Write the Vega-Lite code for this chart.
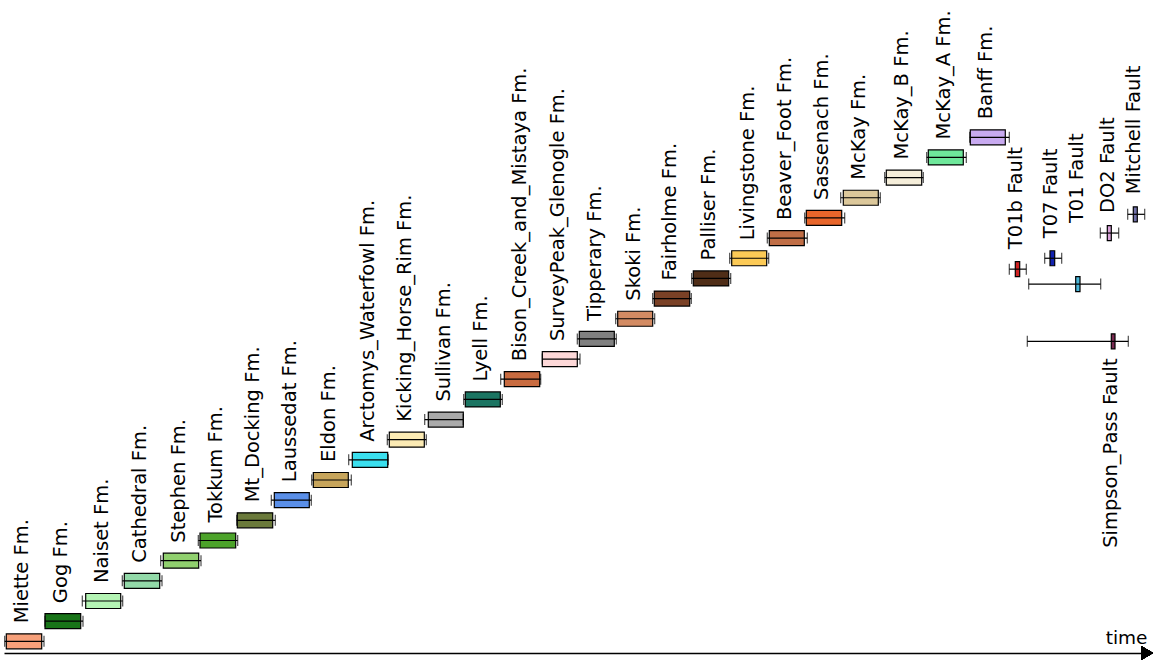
{
  "$schema": "https://vega.github.io/schema/vega-lite/v6.json",
  "width": 1145,
  "height": 653,
  "padding": {"left": 4, "top": 0, "right": 0, "bottom": 0},
  "autosize": {"type": "pad"},
  "background": "white",
  "config": {
    "view": {"stroke": null},
    "axisX": {"domain": true, "domainColor": "black", "domainWidth": 1.5, "ticks": false, "labels": false, "grid": false,
      "titleAnchor": "end", "titleAlign": "right", "titleBaseline": "alphabetic", "titleX": 1143, "titleY": -10,
      "titleFontSize": 18.5, "titleFontWeight": "normal", "titleFont": "DejaVu Sans", "titleColor": "black", "titlePadding": 0}
  },
  "data": {"values": [
    {"name": "Miette Fm.", "kind": "formation", "level": 1, "wmin": 0.7, "q1": 2.3, "q3": 37.7, "wmax": 40.0},
    {"name": "Gog Fm.", "kind": "formation", "level": 2, "wmin": 41.0, "q1": 41.0, "q3": 76.7, "wmax": 79.0},
    {"name": "Naiset Fm.", "kind": "formation", "level": 3, "wmin": 78.3, "q1": 81.7, "q3": 116.7, "wmax": 118.7},
    {"name": "Cathedral Fm.", "kind": "formation", "level": 4, "wmin": 118.3, "q1": 120.3, "q3": 155.7, "wmax": 158.0},
    {"name": "Stephen Fm.", "kind": "formation", "level": 5, "wmin": 156.7, "q1": 159.3, "q3": 194.7, "wmax": 197.0},
    {"name": "Tokkum Fm.", "kind": "formation", "level": 6, "wmin": 194.3, "q1": 196.0, "q3": 231.7, "wmax": 233.7},
    {"name": "Mt_Docking Fm.", "kind": "formation", "level": 7, "wmin": 232.7, "q1": 233.3, "q3": 268.7, "wmax": 271.3},
    {"name": "Laussedat Fm.", "kind": "formation", "level": 8, "wmin": 267.3, "q1": 270.3, "q3": 305.3, "wmax": 307.3},
    {"name": "Eldon Fm.", "kind": "formation", "level": 9, "wmin": 307.7, "q1": 309.3, "q3": 344.3, "wmax": 347.3},
    {"name": "Arctomys_Waterfowl Fm.", "kind": "formation", "level": 10, "wmin": 344.7, "q1": 348.3, "q3": 383.7, "wmax": 384.3},
    {"name": "Kicking_Horse_Rim Fm.", "kind": "formation", "level": 11, "wmin": 383.3, "q1": 385.3, "q3": 420.3, "wmax": 422.3},
    {"name": "Sullivan Fm.", "kind": "formation", "level": 12, "wmin": 420.7, "q1": 424.3, "q3": 459.3, "wmax": 459.3},
    {"name": "Lyell Fm.", "kind": "formation", "level": 13, "wmin": 459.7, "q1": 461.3, "q3": 496.3, "wmax": 498.3},
    {"name": "Bison_Creek_and_Mistaya Fm.", "kind": "formation", "level": 14, "wmin": 496.7, "q1": 500.3, "q3": 535.7, "wmax": 536.7},
    {"name": "SurveyPeak_Glenogle Fm.", "kind": "formation", "level": 15, "wmin": 538.3, "q1": 538.3, "q3": 573.3, "wmax": 576.0},
    {"name": "Tipperary Fm.", "kind": "formation", "level": 16, "wmin": 573.3, "q1": 575.3, "q3": 610.3, "wmax": 612.3},
    {"name": "Skoki Fm.", "kind": "formation", "level": 17, "wmin": 611.7, "q1": 613.7, "q3": 648.7, "wmax": 650.7},
    {"name": "Fairholme Fm.", "kind": "formation", "level": 18, "wmin": 648.7, "q1": 650.3, "q3": 685.7, "wmax": 687.3},
    {"name": "Palliser Fm.", "kind": "formation", "level": 19, "wmin": 687.7, "q1": 689.3, "q3": 724.7, "wmax": 726.7},
    {"name": "Livingstone Fm.", "kind": "formation", "level": 20, "wmin": 725.7, "q1": 727.7, "q3": 762.7, "wmax": 764.7},
    {"name": "Beaver_Foot Fm.", "kind": "formation", "level": 21, "wmin": 763.3, "q1": 765.3, "q3": 800.3, "wmax": 803.3},
    {"name": "Sassenach Fm.", "kind": "formation", "level": 22, "wmin": 800.7, "q1": 802.3, "q3": 837.7, "wmax": 840.7},
    {"name": "McKay Fm.", "kind": "formation", "level": 23, "wmin": 836.7, "q1": 839.3, "q3": 874.3, "wmax": 876.3},
    {"name": "McKay_B Fm.", "kind": "formation", "level": 24, "wmin": 880.7, "q1": 882.3, "q3": 917.7, "wmax": 919.3},
    {"name": "McKay_A Fm.", "kind": "formation", "level": 25, "wmin": 922.7, "q1": 924.3, "q3": 959.3, "wmax": 962.3},
    {"name": "Banff Fm.", "kind": "formation", "level": 26, "wmin": 965.7, "q1": 966.3, "q3": 1001.3, "wmax": 1005.3},
    {"name": "T01b Fault", "kind": "fault", "level": 19.46, "wmin": 1005.3, "q1": 1011.3, "q3": 1015.7, "wmax": 1022.3},
    {"name": "T07 Fault", "kind": "fault", "level": 20.0, "wmin": 1040.7, "q1": 1046.0, "q3": 1050.7, "wmax": 1057.7},
    {"name": "T01 Fault", "kind": "fault_high", "level": 18.72, "wmin": 1024.7, "q1": 1071.7, "q3": 1076.0, "wmax": 1096.7},
    {"name": "DO2 Fault", "kind": "fault", "level": 21.25, "wmin": 1096.3, "q1": 1103.3, "q3": 1107.3, "wmax": 1114.7},
    {"name": "Mitchell Fault", "kind": "fault", "level": 22.18, "wmin": 1123.7, "q1": 1129.3, "q3": 1133.3, "wmax": 1140.7},
    {"name": "Simpson_Pass Fault", "kind": "fault_below", "level": 15.88, "wmin": 1023.3, "q1": 1107.3, "q3": 1111.0, "wmax": 1124.3}
  ]},
  "encoding": {
    "y": {"field": "level", "type": "quantitative", "scale": {"domain": [0.42, 32.81], "nice": false, "zero": false, "padding": 0}, "axis": null}
  },
  "layer": [
    {
      "mark": {"type": "bar", "orient": "horizontal", "size": 15, "stroke": "black", "strokeWidth": 1.2},
      "encoding": {
        "x": {"field": "q1", "type": "quantitative", "scale": {"domain": [0, 1145], "nice": false, "zero": false, "padding": 0}, "axis": {"title": "time"}},
        "x2": {"field": "q3"},
        "color": {"field": "name", "type": "nominal", "legend": null, "scale": {
          "domain": ["Miette Fm.", "Gog Fm.", "Naiset Fm.", "Cathedral Fm.", "Stephen Fm.", "Tokkum Fm.", "Mt_Docking Fm.", "Laussedat Fm.", "Eldon Fm.", "Arctomys_Waterfowl Fm.", "Kicking_Horse_Rim Fm.", "Sullivan Fm.", "Lyell Fm.", "Bison_Creek_and_Mistaya Fm.", "SurveyPeak_Glenogle Fm.", "Tipperary Fm.", "Skoki Fm.", "Fairholme Fm.", "Palliser Fm.", "Livingstone Fm.", "Beaver_Foot Fm.", "Sassenach Fm.", "McKay Fm.", "McKay_B Fm.", "McKay_A Fm.", "Banff Fm.", "T01b Fault", "T07 Fault", "T01 Fault", "DO2 Fault", "Mitchell Fault", "Simpson_Pass Fault"],
          "range": ["#F7A07A", "#187418", "#B4F4B4", "#92D9A8", "#90D06E", "#4CA32A", "#6B7A3B", "#5A8FE8", "#C7A55B", "#3ADFEE", "#FCEBB4", "#AAAAAA", "#1B7562", "#C86B40", "#FDD8D8", "#808080", "#D38B63", "#7A4126", "#4F2D17", "#FCCA56", "#C06E46", "#E8662B", "#DCC89B", "#F5EEDA", "#6EE79A", "#C8AAF0", "#D02222", "#1222B0", "#4AB6D8", "#D9A2D9", "#7070A8", "#7A2A52"]
        }}
      }
    },
    {
      "mark": {"type": "rule", "color": "black", "strokeWidth": 1.2},
      "encoding": {
        "x": {"field": "wmin", "type": "quantitative", "axis": {"title": "time"}},
        "x2": {"field": "wmax"}
      }
    },
    {
      "mark": {"type": "tick", "orient": "vertical", "color": "black", "size": 11, "thickness": 1.2},
      "encoding": {
        "x": {"field": "wmin", "type": "quantitative", "axis": {"title": "time"}}
      }
    },
    {
      "mark": {"type": "tick", "orient": "vertical", "color": "black", "size": 11, "thickness": 1.2},
      "encoding": {
        "x": {"field": "wmax", "type": "quantitative", "axis": {"title": "time"}}
      }
    },
    {
      "transform": [{"filter": "datum.kind == 'formation'"}],
      "mark": {"type": "text", "angle": 270, "align": "left", "baseline": "alphabetic", "dx": 18, "dy": 22, "font": "DejaVu Sans", "fontSize": 19.5, "color": "black"},
      "encoding": {
        "x": {"field": "q1", "type": "quantitative", "axis": {"title": "time"}},
        "text": {"field": "name"}
      }
    },
    {
      "transform": [{"filter": "datum.kind == 'fault'"}],
      "mark": {"type": "text", "angle": 270, "align": "left", "baseline": "alphabetic", "dx": 20, "dy": 7, "font": "DejaVu Sans", "fontSize": 19.5, "color": "black"},
      "encoding": {
        "x": {"field": "q1", "type": "quantitative", "axis": {"title": "time"}},
        "text": {"field": "name"}
      }
    },
    {
      "transform": [{"filter": "datum.kind == 'fault_high'"}],
      "mark": {"type": "text", "angle": 270, "align": "left", "baseline": "alphabetic", "dx": 61, "dy": 7.5, "font": "DejaVu Sans", "fontSize": 19.5, "color": "black"},
      "encoding": {
        "x": {"field": "q1", "type": "quantitative", "axis": {"title": "time"}},
        "text": {"field": "name"}
      }
    },
    {
      "transform": [{"filter": "datum.kind == 'fault_below'"}],
      "mark": {"type": "text", "angle": 270, "align": "right", "baseline": "alphabetic", "dx": -17, "dy": 5.5, "font": "DejaVu Sans", "fontSize": 19.5, "color": "black"},
      "encoding": {
        "x": {"field": "q1", "type": "quantitative", "axis": {"title": "time"}},
        "text": {"field": "name"}
      }
    },
    {
      "mark": {"type": "point", "shape": "triangle-right", "filled": true, "color": "black", "size": 190, "opacity": 1},
      "encoding": {
        "x": {"datum": 1143, "type": "quantitative", "axis": {"title": "time"}},
        "y": {"datum": 0.42, "type": "quantitative"}
      }
    }
  ]
}
